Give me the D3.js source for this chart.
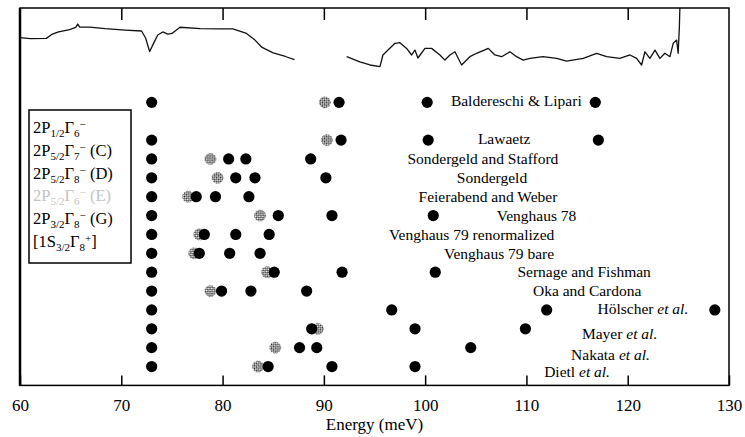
<!DOCTYPE html>
<html>
<head>
<meta charset="utf-8">
<script src="https://cdn.jsdelivr.net/npm/d3@7"></script>
<style>
  body { margin: 0; background: #fff; }
</style>
</head>
<body>
<svg width="745" height="437"></svg>
<script>
"use strict";

//axis ticks
const energyTicks = [60, 70, 80, 90, 100, 110, 120, 130];

//one row per author, row position in plot units
const authors = ["Baldereschi & Lipari", "Lawaetz", "Sondergeld and Stafford", "Sondergeld",
  "Feierabend and Weber", "Venghaus 78", "Venghaus 79 renormalized", "Venghaus 79 bare",
  "Sernage and Fishman", "Oka and Cardona", "Hölscher", "Mayer", "Nakata", "Dietl"];
const etAl = [false, false, false, false, false, false, false, false, false, false, true, true, true, true];
const rowPos = [15, 13, 12, 11, 10, 9, 8, 7, 6, 5, 4, 3, 2, 1];
const blackDots = [
  [73, 91.5, 100.2, 116.8],
  [73, 91.7, 100.3, 117.1],
  [73, 80.6, 82.3, 88.7],
  [73, 81.3, 83.2, 90.2],
  [73, 77.4, 79.3, 82.6],
  [73, 85.5, 90.8, 100.8],
  [73, 78.2, 81.3, 84.6],
  [73, 77.7, 80.7, 83.7],
  [73, 85.1, 91.8, 101.0],
  [73, 79.9, 82.8, 88.3],
  [73, 96.7, 112.0, 128.6],
  [73, 88.8, 99.0, 109.9],
  [73, 87.6, 89.3, 104.5],
  [73, 84.5, 90.8, 99.0]
];
const hatchedDots = [[90.1], [90.3], [78.8], [79.5], [76.6], [83.7], [77.7], [77.2], [84.4], [78.8], [], [89.4], [85.2], [83.5]];
//where each author name sits (meV, row units)
const labelEnergy = [109.0, 107.8, 105.7, 106.6, 106.2, 111.0, 104.6, 107.3, 115.7, 116.0, 121.5, 119.2, 118.3, 115.0];
const labelRow = [15.1, 13.1, 12.0, 11.0, 10.0, 9.0, 8.0, 7.0, 6.05, 5.0, 4.05, 2.72, 1.66, 0.71];

//legend entries: [text, kind]
const legendEntries = [
  [["2P", ""], ["1/2", "sub"], ["Γ", ""], ["6", "sub"], ["−", "sup"]],
  [["2P", ""], ["5/2", "sub"], ["Γ", ""], ["7", "sub"], ["−", "sup"], [" (C)", ""]],
  [["2P", ""], ["5/2", "sub"], ["Γ", ""], ["8", "sub"], ["−", "sup"], [" (D)", ""]],
  [["2P", ""], ["5/2", "sub"], ["Γ", ""], ["6", "sub"], ["−", "sup"], [" (E)", ""]],
  [["2P", ""], ["3/2", "sub"], ["Γ", ""], ["8", "sub"], ["−", "sup"], [" (G)", ""]],
  [["[1S", ""], ["3/2", "sub"], ["Γ", ""], ["8", "sub"], ["+", "sup"], ["]", ""]]
];
const legendFaint = [false, false, false, true, false, false];

//absorption traces at the top (meV, plot units)
const specAEnergy = [60.0, 61.0, 62.6, 63.2, 63.8, 64.9, 65.5, 65.7, 65.9, 66.9, 68.4, 70.4, 72.0, 72.4, 72.8,
  73.2, 73.6, 74.1, 74.6, 75.0, 75.8, 77.8, 79.7, 81.0, 82.3, 83.2, 83.9, 85.0, 86.2, 87.1];
const specAValue = [18.43, 18.38, 18.39, 18.62, 18.74, 18.86, 18.97, 19.15, 18.99, 18.99, 18.91, 18.83, 18.78, 18.41, 17.69,
  18.14, 18.57, 18.73, 18.62, 18.65, 18.98, 18.91, 18.89, 18.89, 18.67, 18.30, 17.91, 17.62, 17.43, 17.27];
const specBEnergy = [92.25, 93.56, 94.55, 95.54, 95.83, 97.02, 97.51, 98.17, 98.67, 98.99, 99.29, 99.98, 100.64,
  101.46, 101.95, 102.45, 102.94, 103.60, 104.42, 105.08, 106.23, 106.89, 107.55, 108.37, 109.03, 109.68,
  110.35, 111.63, 112.98, 113.97, 115.61, 116.93, 117.92, 119.23, 120.22, 120.88, 121.37, 121.70, 122.19,
  122.69, 123.18, 123.67, 124.17, 124.49, 124.83, 124.98, 125.1, 125.15];
const specBValue = [17.42, 17.15, 16.98, 16.89, 17.51, 18.13, 18.16, 17.86, 17.51, 17.77, 17.35, 17.86, 17.86,
  17.51, 17.24, 17.51, 17.68, 16.98, 17.42, 17.60, 17.86, 17.51, 17.42, 17.68, 17.42, 17.24,
  17.33, 17.42, 17.33, 17.19, 17.33, 17.60, 17.42, 17.33, 17.51, 17.33, 16.98, 17.68, 17.33,
  17.77, 17.33, 17.60, 17.42, 18.13, 18.30, 17.60, 19.0, 20.0];

//layout
const plotLeft = 20, plotRight = 729, plotTop = 8, plotBottom = 385.4;
const dotR = 5.6;
const serif = "'Liberation Serif', 'Times New Roman', 'DejaVu Serif', serif";

var svg = d3.select("svg").style("font-family", serif);

var x = d3.scaleLinear().domain([60, 130]).range([plotLeft, plotRight]);
var y = d3.scaleLinear().domain([0, 20]).range([plotBottom, plotTop]);

//hatched dot fill
var defs = svg.append("defs");
var pat = defs.append("pattern")
  .attr("id", "hatch")
  .attr("width", 3).attr("height", 3)
  .attr("patternUnits", "userSpaceOnUse")
  .attr("patternTransform", "rotate(45)");
pat.append("rect").attr("width", 3).attr("height", 3).attr("fill", "#fff");
pat.append("rect").attr("width", 1.5).attr("height", 1.5).attr("fill", "#222");
pat.append("rect").attr("x", 1.5).attr("y", 1.5).attr("width", 1.5).attr("height", 1.5).attr("fill", "#222");

//spectra
var line = d3.line().x(d => x(d[0])).y(d => y(d[1]));
var specA = specAEnergy.map((e, i) => [e, specAValue[i]]);
var specB = specBEnergy.map((e, i) => [e, specBValue[i]]);
svg.append("g").selectAll("path")
  .data([specA, specB])
  .join("path")
  .attr("d", line)
  .attr("fill", "none")
  .attr("stroke", "#111")
  .attr("stroke-width", 1.3)
  .attr("stroke-linejoin", "round");

//dots, hatched ones underneath
var rows = authors.map((a, i) => ({name: a, row: rowPos[i], black: blackDots[i], hatched: hatchedDots[i]}));
var hatched = [], black = [];
rows.forEach(r => {
  r.hatched.forEach(e => hatched.push({e: e, row: r.row}));
  r.black.forEach(e => black.push({e: e, row: r.row}));
});
svg.append("g").selectAll("circle")
  .data(hatched)
  .join("circle")
  .attr("cx", d => x(d.e))
  .attr("cy", d => y(d.row))
  .attr("r", dotR)
  .attr("fill", "url(#hatch)")
  .attr("stroke", "#666")
  .attr("stroke-width", 0.6)
  .attr("stroke-dasharray", "1.5,1.5");
svg.append("g").selectAll("circle")
  .data(black)
  .join("circle")
  .attr("cx", d => x(d.e))
  .attr("cy", d => y(d.row))
  .attr("r", dotR)
  .attr("fill", "#000");

//author labels
var labels = svg.append("g").selectAll("text")
  .data(authors)
  .join("text")
  .attr("x", (d, i) => x(labelEnergy[i]))
  .attr("y", (d, i) => y(labelRow[i]))
  .attr("dy", "0.35em")
  .attr("text-anchor", "middle")
  .style("font-family", serif)
  .style("font-size", "15.5px");
labels.append("tspan").text(d => d);
labels.filter((d, i) => etAl[i]).append("tspan").text(" et al.").style("font-style", "italic");

//axes: ticks point inward
var xAxis = svg.append("g")
  .attr("transform", "translate(0," + plotBottom + ")")
  .call(d3.axisBottom(x).tickValues(energyTicks).tickSizeInner(-10).tickSizeOuter(0).tickPadding(14));
xAxis.attr("font-family", null).attr("font-size", null);
xAxis.select(".domain").remove();
xAxis.selectAll("line").attr("stroke-width", 1.5);
xAxis.selectAll("text").style("font-size", "17px").style("font-family", serif);

var topAxis = svg.append("g")
  .attr("transform", "translate(0," + plotTop + ")")
  .call(d3.axisTop(x).tickValues(energyTicks.slice(1, -1)).tickSizeInner(-12).tickSizeOuter(0).tickFormat(""));
topAxis.select(".domain").remove();
topAxis.selectAll("line").attr("stroke-width", 1.5);

//frame
svg.append("rect")
  .attr("x", plotLeft).attr("y", plotTop)
  .attr("width", plotRight - plotLeft).attr("height", plotBottom - plotTop)
  .attr("fill", "none")
  .attr("stroke", "#000")
  .attr("stroke-width", 1.5);
svg.append("line")
  .attr("x1", plotLeft).attr("x2", plotLeft).attr("y1", plotTop).attr("y2", plotBottom)
  .attr("stroke", "#000").attr("stroke-width", 2.5);

svg.append("text")
  .attr("x", (plotLeft + plotRight) / 2)
  .attr("y", 430)
  .attr("text-anchor", "middle")
  .style("font-family", serif)
  .style("font-size", "17px")
  .text("Energy (meV)");

//legend box
var lg = svg.append("g");
lg.append("rect")
  .attr("x", 29).attr("y", 110)
  .attr("width", 102).attr("height", 153)
  .attr("fill", "#fff")
  .attr("stroke", "#000")
  .attr("stroke-width", 1.5);

var shift = {"": 0, "sub": 4, "sup": -5};
legendEntries.forEach((parts, i) => {
  var t = lg.append("text")
    .attr("x", 33)
    .attr("y", 133 + i * 22.8)
    .style("font-family", serif)
    .style("font-size", "16.5px")
    .style("fill", legendFaint[i] ? "#c4c4c4" : "#000");
  var cur = 0;
  parts.forEach((p, j) => {
    var s = shift[p[1]];
    t.append("tspan")
      .text(p[0])
      .attr("dy", s - cur)
      .style("font-size", p[1] ? "11px" : "16.5px");
    cur = s;
  });
});
</script>
</body>
</html>
